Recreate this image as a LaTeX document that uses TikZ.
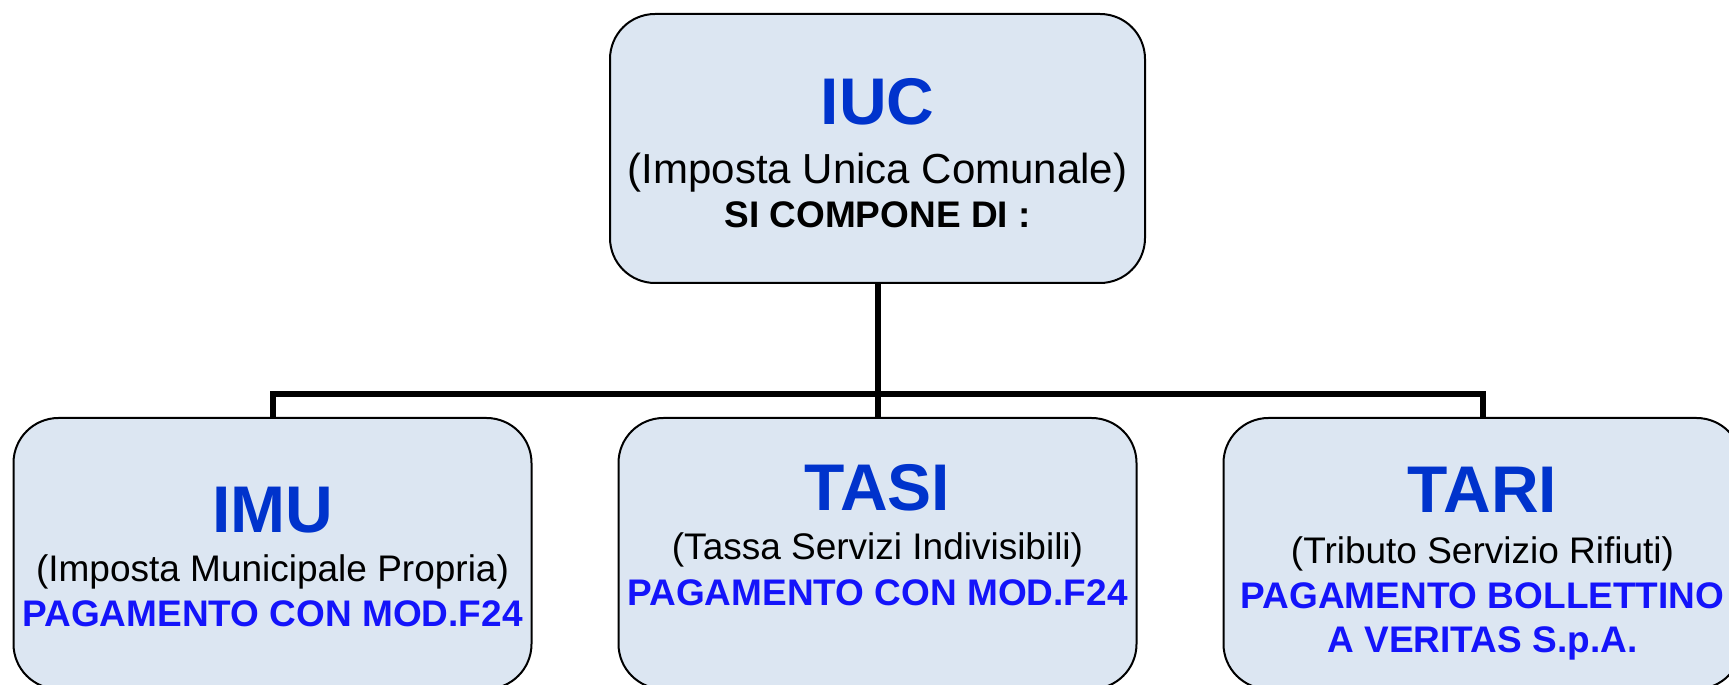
\documentclass[tikz,border=0pt]{standalone}
\usepackage{fontspec}
\setmainfont{Liberation Sans}
\definecolor{boxfill}{RGB}{220,230,242}
\definecolor{titleblue}{RGB}{0,51,204}
\definecolor{payblue}{RGB}{20,20,250}
\begin{document}
\begin{tikzpicture}[x=1pt,y=1pt,
    taxbox/.style={draw=black, line width=2pt, fill=boxfill, rounded corners=45pt,
        minimum width=518pt, minimum height=271pt, inner sep=0pt},
    link/.style={line width=6pt, black},
    title/.style={anchor=base, inner sep=0pt, text=titleblue, font=\fontsize{66}{70}\selectfont\bfseries},
    sub/.style={anchor=base, inner sep=0pt, font=\fontsize{37}{42}\selectfont},
    pay/.style={anchor=base, inner sep=0pt, text=payblue, font=\fontsize{37}{42}\selectfont\bfseries}]
    \useasboundingbox (0,0) rectangle (1729,685);
    \clip (0,0) rectangle (1729,685);
    % boxes
    \node[taxbox, minimum width=535pt, minimum height=269pt] (iuc) at (877.5,536.5) {};
    \node[taxbox] (imu)  at (272.5,131.5) {};
    \node[taxbox] (tasi) at (877.5,131.5) {};
    \node[taxbox] (tari) at (1482.5,131.5) {};
    % connectors
    \coordinate (bus) at (877.5,291);
    \draw[link] (iuc.south) -- (bus);
    \draw[link] (imu.north) |- (bus) -| (tari.north);
    \draw[link] (bus) -- (tasi.north);
    % texts
    \node[title] (iuctitle) at (877.5,560) {IUC};
    \node[sub, font=\fontsize{42}{48}\selectfont] (iucsub) at (877.5,501) {(Imposta Unica Comunale)};
    \node[sub, font=\fontsize{37}{42}\selectfont\bfseries] (iucnote) at (877.5,457) {SI COMPONE DI :};
    \node[title] (imutitle) at (272.5,152) {IMU};
    \node[sub] (imusub) at (272.5,103) {(Imposta Municipale Propria)};
    \node[pay] (imupay) at (272.5,58) {PAGAMENTO CON MOD.F24};
    \node[title] (tasititle) at (877.5,174) {TASI};
    \node[sub] (tasisub) at (877.5,125) {(Tassa Servizi Indivisibili)};
    \node[pay] (tasipay) at (877.5,79) {PAGAMENTO CON MOD.F24};
    \node[title] (tarititle) at (1482.5,172) {TARI};
    \node[sub] (tarisub) at (1482.5,121) {(Tributo Servizio Rifiuti)};
    \node[pay] (taripay) at (1482.5,76) {PAGAMENTO BOLLETTINO};
    \node[pay] (taripaytwo) at (1482.5,32) {A VERITAS S.p.A.};
\end{tikzpicture}
\end{document}
